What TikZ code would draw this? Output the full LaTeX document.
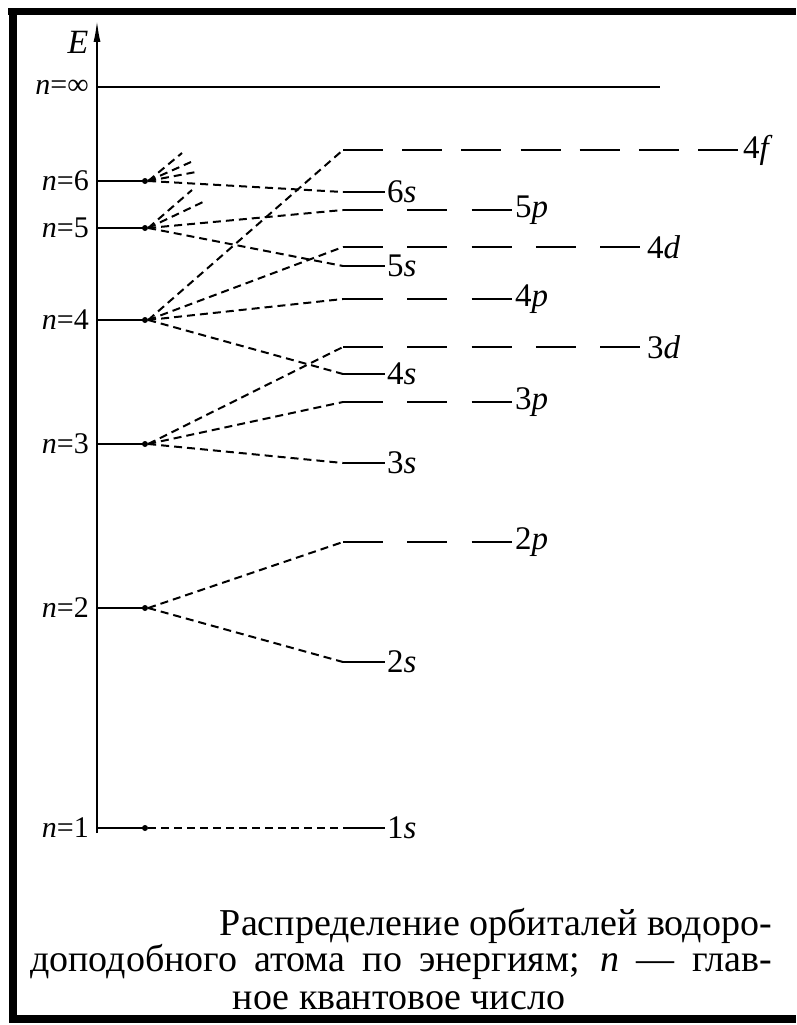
\documentclass[tikz,border=0pt]{standalone}
\usepackage{fontspec}
\setmainfont{Liberation Serif}
\usetikzlibrary{arrows.meta}
\begin{document}
\begin{tikzpicture}[x=1pt,y=-1pt,
 lvl/.style={line width=2.3pt},
 sub/.style={line width=2.8pt},
 subd/.style={sub, dash pattern=on 40pt off 24.25pt},
 subf/.style={sub, dash pattern=on 40pt off 19.17pt},
 conn/.style={line width=2pt, dash pattern=on 8pt off 5pt},
 olab/.style={font=\fontsize{33}{33}\selectfont, anchor=west, inner sep=0pt},
 nlab/.style={font=\fontsize{30}{30}\selectfont, anchor=east, inner sep=0pt},
 captxt/.style={font=\fontsize{38}{38}\selectfont, inner sep=0pt},
 dot/.style={circle, fill, inner sep=0pt, minimum size=6pt}]
\useasboundingbox (0,0) rectangle (796,1025);
% frame
\fill (8,8) rectangle (796,15);
\fill (9,8) rectangle (17,1023);
\fill (9,1015) rectangle (796,1023);
% axis
\coordinate (axb) at (97,833);
\coordinate (axt) at (97,20);
\draw[line width=2pt, -{Latex[length=22pt,width=7pt]}] (axb) -- (axt);
\node[font=\fontsize{34}{34}\selectfont\itshape, inner sep=0pt] (E) at (78,42) {E};
% n = infinity
\coordinate (ainf) at (97,87);
\coordinate (einf) at (660,87);
\draw[lvl] (ainf) -- (einf);
\node[nlab] (ninf) at (89,87) {\textit{n}=∞};
% main levels
\foreach \n/\y in {1/828,2/608,3/444,4/320,5/228,6/181}{
  \coordinate (a\n) at (97,\y);
  \node[dot] (d\n) at (145,\y) {};
  \draw[lvl] (a\n) -- (d\n.center);
  \node[nlab] (n\n) at (89,\y) {\textit{n}=\n};
}
% sublevel starts
\foreach \s/\y in {4f/150,6s/192,5p/210,4d/247,5s/266,4p/299,3d/347,4s/374,3p/402,3s/463,2p/542,2s/662,1s/828}{
  \coordinate (s\s) at (343,\y);
}
% s sublevels
\foreach \s/\lab in {6s/6,5s/5,4s/4,3s/3,2s/2,1s/1}{
  \node[olab] (l\s) at ([xshift=44pt]s\s) {\lab\textit{s}};
  \draw[sub] (s\s) -- ([xshift=-2pt]l\s.west);
}
% p sublevels
\foreach \s/\lab in {5p/5,4p/4,3p/3,2p/2}{
  \node[olab] (l\s) at ([xshift=172pt]s\s) {\lab\textit{p}};
  \draw[subd] (s\s) -- ([xshift=-3.5pt]l\s.west);
}
% d sublevels
\foreach \s/\lab in {4d/4,3d/3}{
  \node[olab] (l\s) at ([xshift=304pt]s\s) {\lab\textit{d}};
  \draw[subd] (s\s) -- ([xshift=-7pt]l\s.west);
}
% f sublevel
\node[olab] (l4f) at ([xshift=400pt]s4f) {4\textit{f}};
\draw[subf] (s4f) -- ([xshift=-5pt]l4f.west);
% connectors
\draw[conn] (d1.east) -- (s1s);
\draw[conn] (d2.east) -- (s2p);
\draw[conn] (d2.east) -- (s2s);
\draw[conn] (d3.east) -- (s3d);
\draw[conn] (d3.east) -- (s3p);
\draw[conn] (d3.east) -- (s3s);
\draw[conn] (d4.east) -- (s4f);
\draw[conn] (d4.east) -- (s4d);
\draw[conn] (d4.east) -- (s4p);
\draw[conn] (d4.east) -- (s4s);
\draw[conn] (d5.east) -- (s5p);
\draw[conn] (d5.east) -- (s5s);
\coordinate (t51) at (192,190);
\coordinate (t52) at (203,202);
\draw[conn] (d5.east) -- (t51);
\draw[conn] (d5.east) -- (t52);
\draw[conn] (d6.east) -- (s6s);
\coordinate (t61) at (182,153);
\coordinate (t62) at (191,162);
\coordinate (t63) at (196,172);
\draw[conn] (d6.east) -- (t61);
\draw[conn] (d6.east) -- (t62);
\draw[conn] (d6.east) -- (t63);
% caption
\node[captxt, anchor=base east] (c1) at (772,935) {Распределение орбиталей водоро-};
\node[captxt, anchor=base west] (c2) at (30,971) {\makebox[742pt][s]{доподобного атома по энергиям; \textit{n} — глав-}};
\node[captxt, anchor=base] (c3) at (399,1009) {ное квантовое число};
\end{tikzpicture}
\end{document}
